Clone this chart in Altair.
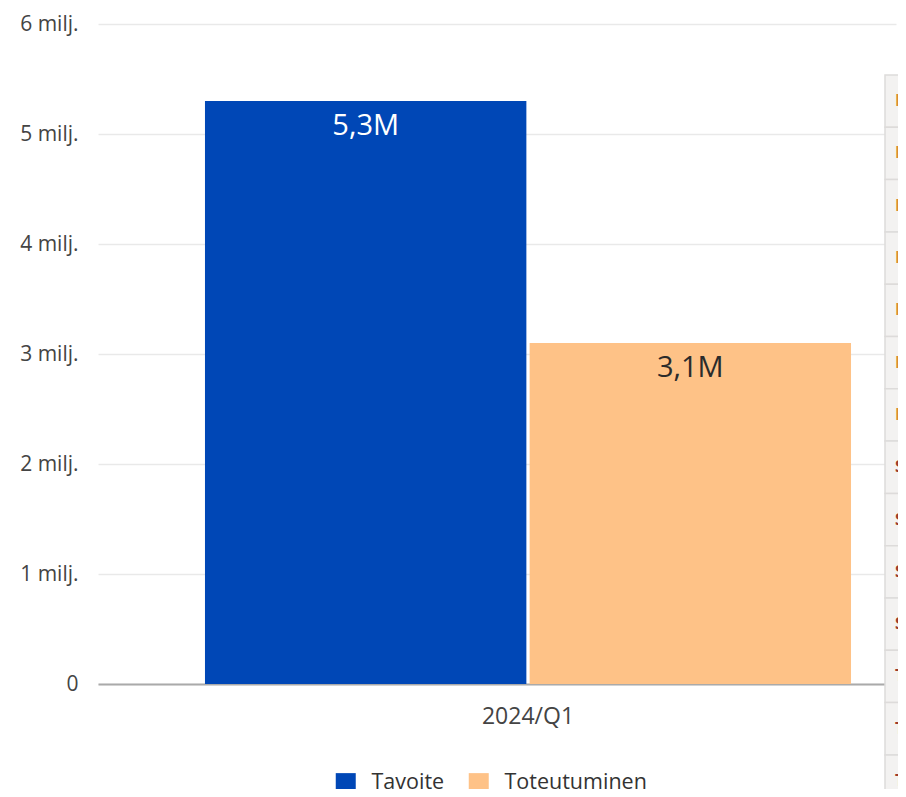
import altair as alt
import pandas as pd

# ---- data -------------------------------------------------------------
quarters = ["2024/Q1"]
series = ["Tavoite", "Toteutuminen"]
values = [5300000, 3100000]
series_colors = ["#0047b6", "#fec287"]
y_ticks = [0, 1000000, 2000000, 3000000, 4000000, 5000000, 6000000]

# partially visible side table (cut off at the window edge)
table_rows = ["r01", "r02", "r03", "r04", "r05", "r06", "r07",
              "r08", "r09", "r10", "r11", "r12", "r13", "r14"]
table_initials = ["E", "E", "K", "K", "K", "M", "M",
                  "S", "S", "S", "S", "T", "T", "T"]

bars_df = pd.DataFrame({
    "quarter": [quarters[0]] * len(series),
    "series": series,
    "value": values,
})
table_df = pd.DataFrame({
    "row": table_rows,
    "initial": table_initials,
    "idx": list(range(len(table_rows))),
})

FONT = "Open Sans"

x_enc = alt.X(
    "quarter:N",
    title=None,
    scale=alt.Scale(paddingInner=0, paddingOuter=0.1176, align=0.704),
    axis=alt.Axis(labelAngle=0, ticks=False, labelFontSize=23, labelColor="#444444",
                  labelPadding=21, domainColor="#aaaaaa", domainWidth=2, grid=False,
                  labelFont=FONT),
)
xoff_enc = alt.XOffset("series:N", sort=series,
                       scale=alt.Scale(paddingInner=0.01, paddingOuter=0))
y_enc = alt.Y(
    "value:Q",
    title=None,
    scale=alt.Scale(domain=[0, 6000000], nice=False),
    axis=alt.Axis(values=y_ticks, ticks=False, domain=False, labelFontSize=21,
                  labelColor="#444444", labelPadding=20, gridColor="#e9e9e9",
                  gridWidth=1.5, labelFont=FONT,
                  labelExpr="datum.value == 0 ? '0' : format(datum.value/1000000, 'd') + ' milj.'"),
)

bars = alt.Chart(bars_df).mark_bar().encode(
    x=x_enc,
    xOffset=xoff_enc,
    y=y_enc,
    color=alt.Color("series:N", sort=series, title=None,
                    scale=alt.Scale(domain=series, range=series_colors),
                    legend=alt.Legend(orient="none", legendX=237, legendY=748,
                                      direction="horizontal", symbolType="square",
                                      symbolSize=400, symbolStrokeWidth=0,
                                      labelFontSize=21.5, labelColor="#333333",
                                      labelFont=FONT, labelOffset=15,
                                      columnPadding=23)),
)

labels = alt.Chart(bars_df).transform_calculate(
    label="replace(format(datum.value/1000000, '.1f'), '.', ',') + 'M'"
).mark_text(baseline="middle", dy=25, fontSize=29, font=FONT).encode(
    x=alt.X("quarter:N", title=None),
    xOffset=alt.XOffset("series:N", sort=series),
    y=alt.Y("value:Q", title=None),
    text="label:N",
    fill=alt.condition("datum.series == 'Tavoite'", alt.value("#ffffff"), alt.value("#2b2b2b")),
)

main = alt.layer(bars, labels)

row_scale = alt.Scale(domain=table_rows, range=[51, 51 + 14 * 52.3],
                      paddingInner=0, paddingOuter=0)

table_cells = alt.Chart(table_df).mark_rect(
    fill="#f3f2f1", stroke="#dddbda", strokeWidth=1.5
).encode(
    x=alt.value(787),
    x2=alt.value(840),
    y=alt.Y("row:N", scale=row_scale, axis=None),
)

table_text = alt.Chart(table_df).mark_text(
    align="left", baseline="middle", fontSize=16, fontWeight="bold", font=FONT
).encode(
    x=alt.value(797),
    y=alt.Y("row:N", scale=row_scale, axis=None),
    text="initial:N",
    fill=alt.condition("datum.idx < 7", alt.value("#d98d34"), alt.value("#9c3b2c")),
)

chart = alt.layer(main, table_cells, table_text).resolve_scale(
    y="independent"
).properties(
    width=798,
    height=660,
    autosize=alt.AutoSizeParams(type="none"),
    padding={"left": 90, "top": 16, "right": 2, "bottom": 105},
).configure(font=FONT).configure_view(strokeWidth=0)

chart.save("out.html", embed_options={"renderer": "svg", "actions": False})
